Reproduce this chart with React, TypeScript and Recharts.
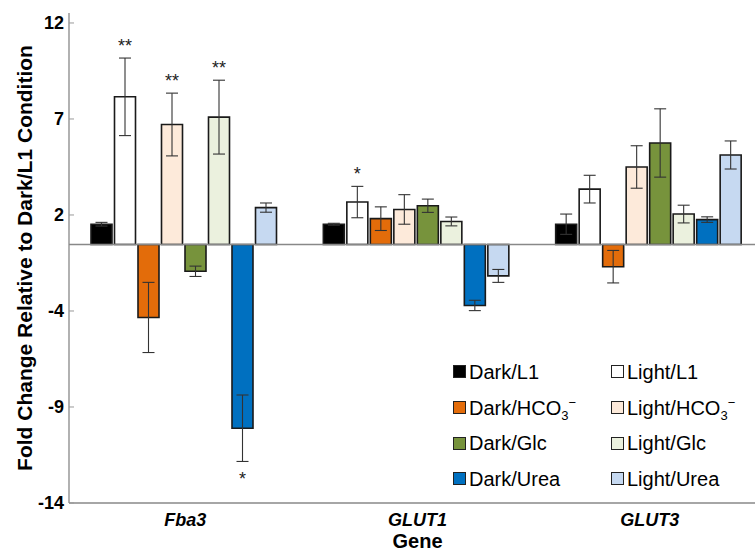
import React from 'react';
import { BarChart, Bar, XAxis, YAxis, ErrorBar, ReferenceLine, LabelList } from 'recharts';

const genes = ['Fba3', 'GLUT1', 'GLUT3'];

// values and error bar half-lengths, one entry per gene
const darkL1 = [1.1, 1.1, 1.1];
const darkL1Err = [0.1, 0.05, 0.55];
const lightL1 = [8.0, 2.3, 3.0];
const lightL1Err = [2.1, 0.85, 0.75];
const darkHCO3 = [-3.95, 1.4, -1.2];
const darkHCO3Err = [1.9, 0.64, 0.88];
const lightHCO3 = [6.5, 1.9, 4.2];
const lightHCO3Err = [1.7, 0.8, 1.15];
const darkGlc = [-1.45, 2.1, 5.5];
const darkGlcErr = [0.28, 0.36, 1.85];
const lightGlc = [6.9, 1.25, 1.65];
const lightGlcErr = [2.0, 0.24, 0.48];
const darkUrea = [-9.95, -3.3, 1.35];
const darkUreaErr = [1.8, 0.28, 0.15];
const lightUrea = [2.0, -1.7, 4.85];
const lightUreaErr = [0.25, 0.35, 0.76];

// significance marks
const lightL1Stars = ['**', '*', ''];
const lightHCO3Stars = ['**', '', ''];
const lightGlcStars = ['**', '', ''];
const darkUreaStars = ['*', '', ''];

const yTicks = [-14, -8.8, -3.6, 1.6, 6.8, 12];

const FONT = '"Liberation Sans", Arial, Helvetica, sans-serif';

type Series = {
  key: string;
  label: React.ReactNode;
  color: string;
  values: number[];
  errors: number[];
  stars?: string[];
};

const HCO3 = (
  <>
    HCO
    <span style={{ fontSize: 13, position: 'relative', top: 5 }}>3</span>
    <span style={{ fontSize: 13, position: 'relative', top: -8 }}>−</span>
  </>
);

const series: Series[] = [
  { key: 'darkL1', label: 'Dark/L1', color: '#000000', values: darkL1, errors: darkL1Err },
  { key: 'lightL1', label: 'Light/L1', color: '#ffffff', values: lightL1, errors: lightL1Err, stars: lightL1Stars },
  { key: 'darkHCO3', label: <>Dark/{HCO3}</>, color: '#e36c0a', values: darkHCO3, errors: darkHCO3Err },
  { key: 'lightHCO3', label: <>Light/{HCO3}</>, color: '#fdeada', values: lightHCO3, errors: lightHCO3Err, stars: lightHCO3Stars },
  { key: 'darkGlc', label: 'Dark/Glc', color: '#77933c', values: darkGlc, errors: darkGlcErr },
  { key: 'lightGlc', label: 'Light/Glc', color: '#ebf1de', values: lightGlc, errors: lightGlcErr, stars: lightGlcStars },
  { key: 'darkUrea', label: 'Dark/Urea', color: '#0070c0', values: darkUrea, errors: darkUreaErr, stars: darkUreaStars },
  { key: 'lightUrea', label: 'Light/Urea', color: '#c6d9f1', values: lightUrea, errors: lightUreaErr },
];

const data = genes.map((gene, i) => {
  const row: Record<string, any> = { gene };
  series.forEach((s) => {
    row[s.key] = s.values[i];
    row[s.key + 'Err'] = s.errors[i];
  });
  return row;
});

function starLabel(s: Series) {
  return (props: any) => {
    const index = props.index;
    const mark = s.stars?.[index];
    if (!mark) return null;
    const vb = props.viewBox ?? props;
    const x = Number(vb.x);
    const y = Number(vb.y);
    const w = Number(vb.width);
    const h = Number(vb.height);
    const v = s.values[index];
    const e = s.errors[index];
    const unit = Math.abs(h) / Math.abs(v);
    let ty;
    if (v >= 0) ty = Math.min(y, y + h) - e * unit - 12;
    else ty = Math.max(y, y + h) + e * unit + 18;
    return (
      <text x={x + w / 2} y={ty} textAnchor="middle" dominantBaseline="central" fontSize={18} fontFamily={FONT} fill="#222">
        {mark}
      </text>
    );
  };
}

export default function App() {
  return (
    <div style={{ position: 'absolute', left: 0, top: 0, width: 755, height: 552, overflow: 'hidden', background: '#fff' }}>
      <BarChart
        width={772}
        height={552}
        data={data}
        margin={{ top: 13, right: 6, bottom: 0, left: 0 }}
        barCategoryGap={22}
        barGap={2.5}
      >
        <XAxis
          xAxisId="top"
          orientation="top"
          dataKey="gene"
          height={0}
          tick={false}
          tickLine={false}
          axisLine={{ stroke: '#888', strokeWidth: 1.3 }}
        />
        <XAxis
          dataKey="gene"
          height={49}
          tickLine={false}
          tickSize={6}
          tickMargin={4}
          axisLine={{ stroke: '#888', strokeWidth: 1.3 }}
          tick={{ fill: '#000', fontSize: 18, fontWeight: 'bold', fontStyle: 'italic', fontFamily: FONT }}
          label={{
            content: (p: any) => {
              const vb = p.viewBox;
              return (
                <text x={vb.x + vb.width / 2} y={548} textAnchor="middle" fontSize={20} fontWeight="bold" fontFamily={FONT} fill="#000">
                  Gene
                </text>
              );
            },
          }}
        />
        <YAxis
          width={69}
          domain={[-14, 12.54]}
          ticks={yTicks}
          interval={0}
          tickFormatter={(v: number) => String(Math.round(v))}
          tickSize={-5}
          tickMargin={10}
          tickLine={{ stroke: '#999' }}
          axisLine={{ stroke: '#888', strokeWidth: 1.3 }}
          tick={{ fill: '#000', fontSize: 18, fontWeight: 'bold', fontFamily: FONT }}
          label={{
            content: (p: any) => {
              const vb = p.viewBox;
              const cx = 24;
              const cy = vb.y + vb.height / 2;
              return (
                <text
                  x={cx}
                  y={cy}
                  transform={`rotate(-90 ${cx} ${cy})`}
                  textAnchor="middle"
                  dominantBaseline="central"
                  fontSize={21}
                  fontWeight="bold"
                  fontFamily={FONT}
                  fill="#000"
                >
                  Fold Change Relative to Dark/L1 Condition
                </text>
              );
            },
          }}
        />
        <ReferenceLine y={0} stroke="#888" strokeWidth={1.3} />
        {series.map((s) => (
          <Bar key={s.key} dataKey={s.key} fill={s.color} stroke="#1a1a1a" strokeWidth={1.6} isAnimationActive={false}>
            <ErrorBar dataKey={s.key + 'Err'} width={6} stroke="#333" strokeWidth={1.1} />
            {s.stars && <LabelList dataKey={s.key} content={starLabel(s)} />}
          </Bar>
        ))}
      </BarChart>
      <div
        style={{
          position: 'absolute',
          left: 453,
          top: 354,
          display: 'grid',
          gridTemplateColumns: '158px auto',
          gridAutoRows: '35.7px',
          alignItems: 'center',
          fontFamily: FONT,
          fontSize: 20,
          lineHeight: 1,
          color: '#000',
        }}
      >
        {[0, 2, 4, 6].map((r) =>
          [series[r], series[r + 1]].map((s) => (
            <div key={s.key} style={{ display: 'flex', alignItems: 'center', whiteSpace: 'nowrap' }}>
              <div
                style={{
                  width: 11,
                  height: 11,
                  background: s.color,
                  border: '1.5px solid #222',
                  marginRight: 3,
                  flexShrink: 0,
                }}
              />
              <span>{s.label}</span>
            </div>
          ))
        )}
      </div>
    </div>
  );
}
